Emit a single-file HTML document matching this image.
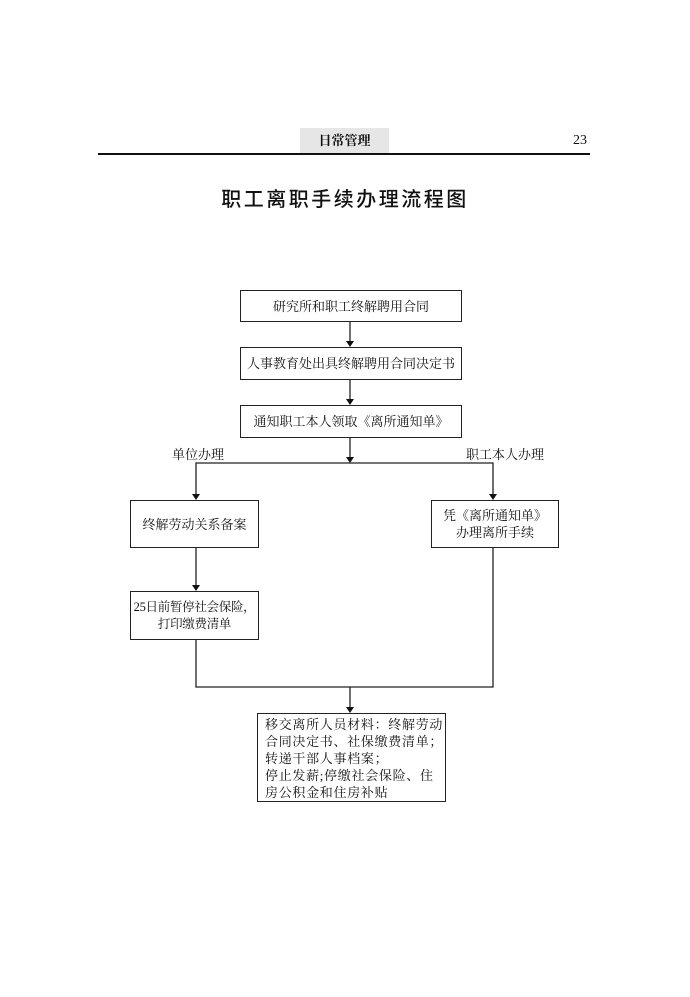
<!DOCTYPE html>
<html><head><meta charset="utf-8"><style>
body{margin:0;width:690px;height:997px;background:#fff;position:relative;overflow:hidden;font-family:"Liberation Serif","Noto Serif CJK SC",serif;color:#111}
.a{position:absolute}
.box{position:absolute;border:1.5px solid #222;box-sizing:border-box;font-size:13px;display:flex;align-items:center;justify-content:center;text-align:center;line-height:17px;white-space:nowrap}
</style></head><body>
<div class="a" style="left:300px;top:128px;width:89px;height:25px;background:#e6e6e6;font-size:13px;font-weight:bold;text-align:center;line-height:25px">日常管理</div>
<div class="a" style="left:573px;top:133px;font-size:14px">23</div>
<div class="a" style="left:98px;top:153px;width:492px;height:2px;background:#111"></div>
<div class="a" style="left:214px;top:183px;width:262px;text-align:center;font-family:'Liberation Sans','Noto Sans CJK SC',sans-serif;font-size:20px;letter-spacing:2.5px;font-weight:500">职工离职手续办理流程图</div>
<svg class="a" style="left:0;top:0" width="690" height="997">
<g stroke="#222" stroke-width="1.3" fill="none">
<line x1="350" y1="321" x2="350" y2="341"/>
<line x1="350" y1="379" x2="350" y2="399"/>
<line x1="350" y1="437" x2="350" y2="458"/>
<polyline points="196,494 196,463 493,463 493,494"/>
<line x1="196" y1="547" x2="196" y2="585"/>
<polyline points="196,639 196,687 493,687 493,547"/>
<line x1="350" y1="687" x2="350" y2="707"/>
</g>
<g fill="#111">
<path d="M346,341h8l-4,6z"/><path d="M346,399h8l-4,6z"/><path d="M346,457h8l-4,6z"/>
<path d="M192,494h8l-4,6z"/><path d="M489,494h8l-4,6z"/><path d="M192,585h8l-4,6z"/><path d="M346,707h8l-4,6z"/>
</g></svg>
<div class="box" style="left:240px;top:290px;width:222px;height:32px">研究所和职工终解聘用合同</div>
<div class="box" style="left:240px;top:347px;width:222px;height:33px">人事教育处出具终解聘用合同决定书</div>
<div class="box" style="left:240px;top:405px;width:222px;height:33px">通知职工本人领取《离所通知单》</div>
<div class="a" style="left:172px;top:444px;font-size:13px">单位办理</div>
<div class="a" style="left:466px;top:444px;font-size:13px">职工本人办理</div>
<div class="box" style="left:130px;top:500px;width:129px;height:48px">终解劳动关系备案</div>
<div class="box" style="left:431px;top:500px;width:128px;height:48px">凭《离所通知单》<br>办理离所手续</div>
<div class="box" style="left:130px;top:591px;width:129px;height:49px;font-size:12.5px;letter-spacing:-0.3px">25日前暂停社会保险，<br>打印缴费清单</div>
<div class="box" style="left:257px;top:713px;width:189px;height:89px;justify-content:flex-start;text-align:left;padding-left:7px;align-items:flex-start;padding-top:2px;letter-spacing:0.7px">移交离所人员材料：终解劳动<br>合同决定书、社保缴费清单；<br>转递干部人事档案；<br>停止发薪;停缴社会保险、住<br>房公积金和住房补贴</div>
</body></html>
